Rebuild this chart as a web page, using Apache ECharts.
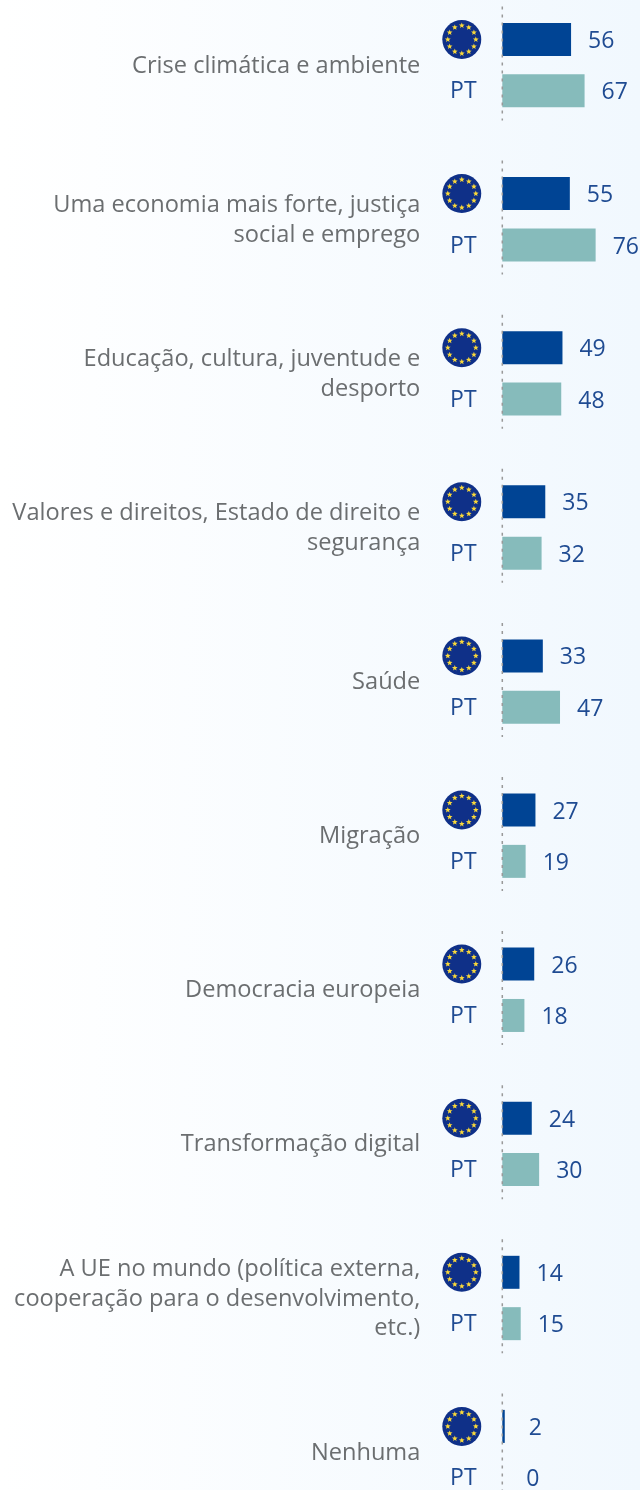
<!DOCTYPE html>
<html><head><meta charset="utf-8">
<style>html,body{margin:0;padding:0;background:#fff}#c{width:640px;height:1490px}</style>
<script src="https://cdn.jsdelivr.net/npm/echarts@6/dist/echarts.min.js"></script>
</head><body><div id="c"></div>
<script>
const topics = ['Crise climática e ambiente','Uma economia mais forte, justiça\nsocial e emprego','Educação, cultura, juventude e\ndesporto','Valores e direitos, Estado de direito e\nsegurança','Saúde','Migração','Democracia europeia','Transformação digital','A UE no mundo (política externa,\ncooperação para o desenvolvimento,\netc.)','Nenhuma'];
const euValues = [56,55,49,35,33,27,26,24,14,2];
const ptValues = [67,76,48,32,47,19,18,30,15,0];
const FONT = '"Open Sans"';
const BLUE = '#1f4b92';

function flagUri(){
  let stars='';
  for(let i=0;i<12;i++){
    const a=i*Math.PI/6, cx=20+14*Math.sin(a), cy=20-14*Math.cos(a);
    let p=[];
    for(let k=0;k<10;k++){
      const r=k%2?1.3:3, b=k*Math.PI/5;
      p.push((cx+r*Math.sin(b)).toFixed(2)+','+(cy-r*Math.cos(b)).toFixed(2));
    }
    stars+='<polygon fill="#f9d83a" points="'+p.join(' ')+'"/>';
  }
  const svg='<svg xmlns="http://www.w3.org/2000/svg" width="40" height="40" viewBox="0 0 40 40"><circle cx="20" cy="20" r="19.5" fill="#0f3088"/>'+stars+'</svg>';
  return 'data:image/svg+xml;charset=utf-8,'+encodeURIComponent(svg);
}

const rows=[], eu=[], pt=[];
topics.forEach((t,i)=>{
  rows.push('EU'+i,'PT'+i);
  eu.push(euValues[i],null);
  pt.push(null,ptValues[i]);
  if(i<topics.length-1){rows.push('gap'+i);eu.push(null);pt.push(null);}
});
const labelFor = v => ({show:true,position:'right',distance:v<5?24:17,offset:[0,2],color:BLUE,fontFamily:FONT,fontSize:23,
  formatter:'{c}'});
const PERIOD=154.1, PITCH=PERIOD/3, X0=502.3, UNIT=1.228;
const chart=echarts.init(document.getElementById('c'),null,{renderer:'canvas'});
function draw(flag){
chart.setOption({
  animation:false,
  backgroundColor:{type:'linear',x:0,y:0,x2:1,y2:0,colorStops:[{offset:0,color:'#ffffff'},{offset:1,color:'#f1f8fe'}]},
  grid:[
    {left:X0,top:39.5-PITCH/2,width:100*UNIT,height:PITCH*rows.length,outerBoundsMode:'none'},
    {left:X0,top:66-PERIOD/2,width:100*UNIT,height:PERIOD*topics.length,outerBoundsMode:'none'}
  ],
  xAxis:[
    {gridIndex:0,type:'value',min:0,max:100,show:false},
    {gridIndex:1,type:'value',min:0,max:100,show:false}
  ],
  yAxis:[
    {gridIndex:0,type:'category',inverse:true,data:rows,axisLine:{show:false},axisTick:{show:false},
     axisLabel:{margin:39,interval:0,align:'center',
       formatter:v=>v.startsWith('EU')?'{f| }{s| }':v.startsWith('PT')?'{p|PT}':'',
       rich:{f:{width:40,height:40,backgroundColor:{image:flag}},
             s:{width:3,height:40},
             p:{color:BLUE,fontFamily:FONT,fontSize:23,padding:[2,0,0,0]}}}},
    {gridIndex:1,type:'category',inverse:true,data:topics,axisLine:{show:false},axisTick:{show:false},
     axisLabel:{margin:82,interval:0,color:'#6b6e70',fontFamily:FONT,fontSize:23.6,lineHeight:29.6,align:'right'}}
  ],
  series:[
    {type:'bar',xAxisIndex:0,yAxisIndex:0,barGap:'-100%',barWidth:33,itemStyle:{color:'#004494'},
     data:eu.map(v=>v==null?null:{value:v,label:labelFor(v)})},
    {type:'bar',xAxisIndex:0,yAxisIndex:0,barWidth:33,itemStyle:{color:'#86bbbb'},
     data:pt.map(v=>v==null?null:{value:v,label:labelFor(v)})},
    {type:'custom',xAxisIndex:1,yAxisIndex:1,z:5,silent:true,
     data:topics.map((t,i)=>[0,i]),encode:{x:0,y:1},
     renderItem:(p,api)=>{
       const c=api.coord([0,api.value(1)]);
       return {type:'line',shape:{x1:c[0],y1:c[1]-59.5,x2:c[0],y2:c[1]+54.5},
         style:{stroke:'#999999',lineWidth:1.5,lineDash:[3,5]}};
     }}
  ]
});
}
const flag = new Image();
flag.onload=()=>draw(flag);
flag.src = flagUri();
</script></body></html>
